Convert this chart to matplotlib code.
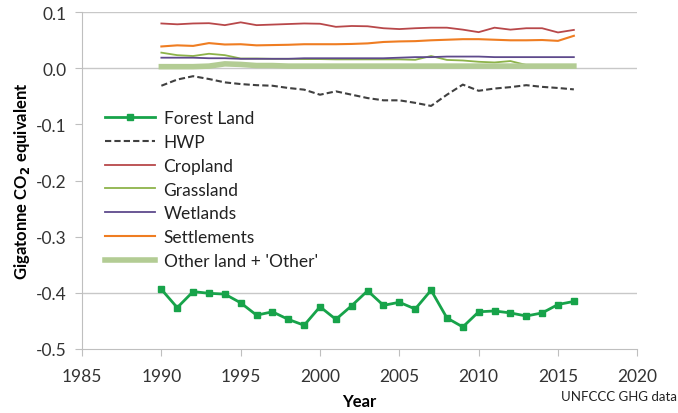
import matplotlib
matplotlib.use('Agg')
import matplotlib.pyplot as plt
import numpy as np

years = np.arange(1990, 2017)

forest_land = [-0.394, -0.4265, -0.398, -0.401, -0.4025, -0.418, -0.440, -0.434, -0.4475, -0.458,
               -0.425, -0.4475, -0.423, -0.3965, -0.4225, -0.417, -0.429, -0.3955, -0.445, -0.461,
               -0.434, -0.4325, -0.436, -0.4415, -0.436, -0.421, -0.4155]
hwp = [-0.031, -0.020, -0.014, -0.019, -0.025, -0.028, -0.030, -0.031, -0.035, -0.038,
       -0.047, -0.041, -0.047, -0.053, -0.057, -0.057, -0.0615, -0.067, -0.047, -0.029,
       -0.040, -0.036, -0.0335, -0.030, -0.033, -0.035, -0.0375]
cropland = [0.080, 0.0785, 0.080, 0.0805, 0.077, 0.082, 0.077, 0.078, 0.079, 0.080,
            0.0795, 0.074, 0.0755, 0.075, 0.0715, 0.070, 0.0715, 0.0725, 0.0725, 0.069,
            0.0645, 0.0725, 0.069, 0.0715, 0.0715, 0.064, 0.0685]
grassland = [0.028, 0.0235, 0.022, 0.026, 0.0235, 0.0175, 0.0175, 0.017, 0.017, 0.0165,
             0.0165, 0.016, 0.016, 0.016, 0.016, 0.016, 0.0152, 0.022, 0.015, 0.014,
             0.0117, 0.0105, 0.013, 0.006, 0.006, 0.0055, 0.005]
wetlands = [0.019, 0.019, 0.019, 0.018, 0.018, 0.017, 0.017, 0.017, 0.017, 0.018,
            0.018, 0.018, 0.018, 0.018, 0.018, 0.019, 0.020, 0.020, 0.021, 0.021,
            0.021, 0.020, 0.020, 0.020, 0.020, 0.020, 0.020]
settlements = [0.039, 0.041, 0.040, 0.045, 0.0425, 0.043, 0.041, 0.0415, 0.042, 0.043,
               0.043, 0.043, 0.0435, 0.0445, 0.047, 0.048, 0.0485, 0.050, 0.051, 0.052,
               0.052, 0.051, 0.050, 0.050, 0.0505, 0.049, 0.058]
other_land = [0.003, 0.003, 0.003, 0.004, 0.008, 0.007, 0.005, 0.005, 0.004, 0.004,
              0.004, 0.004, 0.004, 0.004, 0.004, 0.004, 0.004, 0.004, 0.004, 0.004,
              0.004, 0.004, 0.004, 0.004, 0.004, 0.004, 0.004]

plt.rcParams['font.family'] = ['Lato', 'DejaVu Sans']

fig = plt.figure(figsize=(6.78, 4.14), dpi=100)
ax = fig.add_axes([0.121, 0.155, 0.819, 0.813])

for y in [0.1, 0.0, -0.4]:
    ax.axhline(y, color='#c8c8c8', linewidth=1, zorder=0)

ax.plot(years, forest_land, color='#17a34a', linewidth=2, marker='s', markersize=5, label='Forest Land')
ax.plot(years, hwp, color='#404040', linewidth=1.5, linestyle=(0, (3, 1.5)), label='HWP')
ax.plot(years, cropland, color='#b8484a', linewidth=1.3, label='Cropland')
ax.plot(years, grassland, color='#8db34a', linewidth=1.3, label='Grassland')
ax.plot(years, wetlands, color='#5e4a8c', linewidth=1.3, label='Wetlands')
ax.plot(years, settlements, color='#ef7d22', linewidth=1.5, label='Settlements')
ax.plot(years, other_land, color='#b3cc94', linewidth=4, label="Other land + 'Other'")

ax.set_xlim(1985, 2020)
ax.set_ylim(-0.5, 0.1)
ax.set_xticks(np.arange(1985, 2021, 5))
ax.set_yticks(np.arange(-0.5, 0.11, 0.1))
ax.yaxis.set_major_formatter(matplotlib.ticker.FuncFormatter(lambda v, _: '%.1f' % (v + 0.0 if abs(v) > 1e-9 else 0.0)))

for s in ['top', 'right']:
    ax.spines[s].set_visible(False)
for s in ['left', 'bottom']:
    ax.spines[s].set_color('#bfbfbf')
ax.tick_params(colors='#bfbfbf', labelcolor='#333333', labelsize=12.5, length=5, direction='out')
ax.tick_params(axis='x', pad=9)
ax.tick_params(axis='y', pad=6)

ax.set_xlabel('Year', fontsize=12, fontweight='bold', labelpad=6)
ax.set_ylabel('Gigatonne CO$_\\mathbf{2}$ equivalent', fontsize=12, fontweight='bold', labelpad=3)

leg = ax.legend(loc='upper left', bbox_to_anchor=(0.028, 0.73), frameon=False, fontsize=12.5,
                handlelength=2.9, handletextpad=0.5, labelspacing=0.45, borderaxespad=0)
for t in leg.get_texts():
    t.set_color('#222222')

fig.text(0.998, 0.04, 'UNFCCC GHG data', ha='right', va='center', fontsize=9.5, color='#222222')

fig.savefig('out.png', dpi=100)
